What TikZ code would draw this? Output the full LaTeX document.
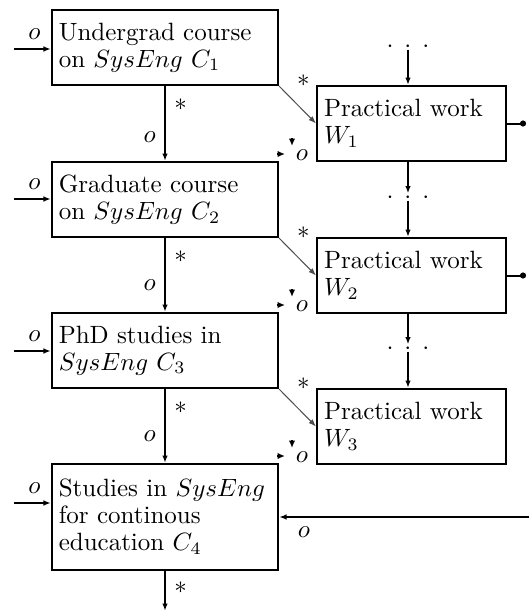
\documentclass[tikz,border=0pt]{standalone}
\usetikzlibrary{arrows.meta, calc}

\newcommand{\workdots}{\smash{\raisebox{-2.5pt}{${\cdot}\hspace{4.4pt}{\cdot}\hspace{4.4pt}{\cdot}$}}}

\begin{document}
\begin{tikzpicture}[x=0.4pt, y=-0.4pt, >={Latex[length=3pt,width=2.2pt]},
  font=\fontsize{10}{10.8}\selectfont,
  course/.style={draw, thick, rectangle, minimum width=90.4pt, minimum height=30pt,
    text width=85pt, inner xsep=2.7pt, align=left},
  work/.style={draw, thick, rectangle, minimum width=75.6pt, minimum height=30pt,
    text width=70pt, inner xsep=2.8pt, align=left},
  flow/.style={thick, ->},
  side/.style={thin, gray!60!black, ->},
  stub/.style={thick, -{Latex[length=3pt,width=2.6pt]}},
  dotrow/.style={inner sep=0pt, minimum height=2.4pt, minimum width=16pt}]
  \useasboundingbox (0,0) rectangle (529,613);

  \node (c1) at (165,47.5) [course] {Undergrad course\\ on $SysEng\ C_1$};
  \node (c2) at (165,199.5) [course] {Graduate course\\ on $SysEng\ C_2$};
  \node (c3) at (165,350.5) [course] {PhD studies in\\ $SysEng\ C_3$};
  \node (c4) at (165,517) [course, minimum height=42.4pt] {Studies in $SysEng$\\ for continous\\ education $C_4$};

  \node (w1) at (411.5,123.5) [work] {Practical work\\ $W_1$};
  \node (w2) at (411.5,275.5) [work] {Practical work\\ $W_2$};
  \node (w3) at (411.5,426.5) [work] {Practical work\\ $W_3$};

  \node (d0) at (408,46) [dotrow] {\workdots};
  \node (d1) at (408,197) [dotrow] {\workdots};
  \node (d2) at (408,348) [dotrow] {\workdots};

  \coordinate (out4) at (165,611); % free end
  \coordinate (fb) at (529,517); % free end
  \coordinate (o1) at (526,123.5);
  \coordinate (o2) at (526,275.5);

  % course chain
  \draw[flow] (c1) -- node[near start, right] {$*$} node[pos=0.68, left] {$o$} (c2);
  \draw[flow] (c2) -- node[near start, right] {$*$} node[pos=0.63, left] {$o$} (c3);
  \draw[flow] (c3) -- node[near start, right] {$*$} node[pos=0.63, left] {$o$} (c4);
  \draw[flow] (c4) -- node[pos=0.42, right] {$*$} (out4);

  \foreach \n/\y in {1/49, 2/199, 3/351, 4/503} {
    \coordinate (in\n) at (14,\y);
    \draw[flow] (in\n) -- node[pos=0.55, above] {$o$} (in\n -| c\n.west);
  }

  % courses to practical work
  \draw[side] (c1.south east) -- node[near start, above right, black] {$*$} (w1.west);
  \draw[side] (c2.south east) -- node[near start, above right, black] {$*$} (w2.west);
  \draw[side] (c3.south east) -- node[near start, above right, black] {$*$} (w3.west);

  % practical work column
  \draw[flow] (d0) -- (d0 |- w1.north);
  \draw[flow] (d1 |- w1.south) -- (d1);
  \draw[flow] (d1) -- (d1 |- w2.north);
  \draw[flow] (d2 |- w2.south) -- (d2);
  \draw[flow] (d2) -- (d2 |- w3.north);
  \draw[thick, -{Circle[length=2.4pt]}] (w1) -- (o1);
  \draw[thick, -{Circle[length=2.4pt]}] (w2) -- (o2);

  \draw[flow] (fb) -- node[pos=0.9, below] {$o$} (c4);

  % corner ports
  \foreach \k in {2,3,4} {
    \coordinate (r\k) at ($(c\k.north east)+(-2,-7)$);
    \coordinate (t\k) at ($(c\k.north east)+(13,-23)$);
    \draw[stub] (r\k) -- ++(8,0);
    \draw[stub] (t\k) -- ++(0,8);
    \node (p\k) at ($(c\k.north east)+(23,-6)$) {$o$};
  }
\end{tikzpicture}
\end{document}
